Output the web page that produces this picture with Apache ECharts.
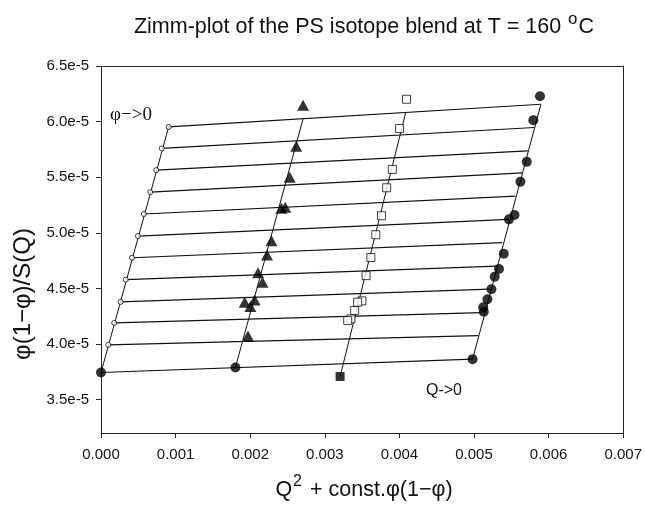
<!DOCTYPE html>
<html><head><meta charset="utf-8">
<script src="https://cdn.jsdelivr.net/npm/echarts@6/dist/echarts.min.js"></script>
<style>html,body{margin:0;padding:0;background:#fff}#c{width:645px;height:510px}</style>
</head><body><div id="c"></div>
<script>
// ---- data ----
const xTicks = [0, 0.001, 0.002, 0.003, 0.004, 0.005, 0.006, 0.007];
const yTicks = [3.5e-5, 4.0e-5, 4.5e-5, 5.0e-5, 5.5e-5, 6.0e-5, 6.5e-5];

// phi -> 0 extrapolated points (open circles)
const phi0X = [0.000907, 0.000814, 0.000740, 0.000660, 0.000575, 0.000495, 0.000416, 0.000332, 0.000262, 0.000177, 0.000097];
const phi0Y = [5.952e-5, 5.759e-5, 5.564e-5, 5.366e-5, 5.169e-5, 4.971e-5, 4.776e-5, 4.579e-5, 4.379e-5, 4.190e-5, 3.993e-5];

// fitted lines at constant Q: start (phi->0) and end points
const hStartX = [0.000907, 0.000814, 0.000740, 0.000660, 0.000575, 0.000495, 0.000416, 0.000332, 0.000262, 0.000177, 0.000097, 0];
const hStartY = [5.952e-5, 5.759e-5, 5.564e-5, 5.366e-5, 5.169e-5, 4.971e-5, 4.776e-5, 4.579e-5, 4.379e-5, 4.190e-5, 3.993e-5, 3.744e-5];
const hEndX = [0.005897, 0.005808, 0.005721, 0.005654, 0.005556, 0.005468, 0.005379, 0.005306, 0.005210, 0.005100, 0.005056, 0.004981];
const hEndY = [6.156e-5, 5.947e-5, 5.737e-5, 5.539e-5, 5.330e-5, 5.121e-5, 4.911e-5, 4.700e-5, 4.493e-5, 4.283e-5, 4.076e-5, 3.864e-5];

// fitted lines at constant concentration: bottom (Q->0) and top points
const vStartX = [0, 0.001802, 0.003205, 0.004981];
const vStartY = [3.744e-5, 3.789e-5, 3.708e-5, 3.864e-5];
const vEndX = [0.000907, 0.002709, 0.004085, 0.005897];
const vEndY = [5.952e-5, 6.026e-5, 6.085e-5, 6.156e-5];

// measured data: triangles
const triX = [0.002709, 0.002617, 0.002530, 0.002417, 0.002470, 0.002285, 0.002225, 0.002105, 0.002165, 0.001926, 0.002059, 0.002002, 0.001970];
const triY = [6.147e-5, 5.779e-5, 5.500e-5, 5.222e-5, 5.231e-5, 4.929e-5, 4.801e-5, 4.642e-5, 4.556e-5, 4.376e-5, 4.397e-5, 4.337e-5, 4.073e-5];
// measured data: open squares
const sqX = [0.004095, 0.004002, 0.003905, 0.003829, 0.003759, 0.003683, 0.003617, 0.003553, 0.003497, 0.003440, 0.003400, 0.003351, 0.003307];
const sqY = [6.201e-5, 5.938e-5, 5.570e-5, 5.405e-5, 5.154e-5, 4.983e-5, 4.778e-5, 4.615e-5, 4.388e-5, 4.376e-5, 4.301e-5, 4.226e-5, 4.211e-5];
// measured data: filled circles
const dotX = [0.005884, 0.005795, 0.005707, 0.005622, 0.005543, 0.005468, 0.005399, 0.005335, 0.005277, 0.005233, 0.005180, 0.005123, 0.005131];
const dotY = [6.228e-5, 6.013e-5, 5.638e-5, 5.459e-5, 5.160e-5, 5.121e-5, 4.812e-5, 4.675e-5, 4.606e-5, 4.493e-5, 4.403e-5, 4.331e-5, 4.291e-5];

// Q -> 0 extrapolated points
const q0X = [0, 0.001802, 0.004981];
const q0Y = [3.744e-5, 3.789e-5, 3.864e-5];
const q0SqX = [0.003205];
const q0SqY = [3.708e-5];

// ---- build chart ----
const zip = (xs, ys) => xs.map((x, i) => [x, ys[i]]);
const FONT = '"Liberation Sans", Arial, sans-serif';
const series = [];
hStartX.forEach((x, i) => {
  series.push({type: 'line', data: [[x, hStartY[i]], [hEndX[i], hEndY[i]]], symbol: 'none',
    lineStyle: {color: '#111', width: 1.2}, z: 2, silent: true});
});
vStartX.forEach((x, i) => {
  series.push({type: 'line', data: [[x, vStartY[i]], [vEndX[i], vEndY[i]]], symbol: 'none',
    lineStyle: {color: '#111', width: 1}, z: 2, silent: true});
});
series.push({type: 'scatter', data: zip(phi0X, phi0Y), symbol: 'circle', symbolSize: 5,
  itemStyle: {color: '#fff', borderColor: '#111', borderWidth: 1}, z: 4});
series.push({type: 'scatter', data: zip(triX, triY), symbol: 'triangle', symbolSize: [12, 11],
  itemStyle: {color: '#000'}, z: 4});
series.push({type: 'scatter', data: zip(sqX, sqY), symbol: 'rect', symbolSize: 8,
  itemStyle: {color: '#fff', borderColor: '#111', borderWidth: 1}, z: 4});
series.push({type: 'scatter', data: zip(dotX, dotY), symbol: 'circle', symbolSize: 10,
  itemStyle: {color: '#000'}, z: 4});
series.push({type: 'scatter', data: zip(q0X, q0Y), symbol: 'circle', symbolSize: 10,
  itemStyle: {color: '#000'}, z: 5});
series.push({type: 'scatter', data: zip(q0SqX, q0SqY), symbol: 'rect', symbolSize: 9,
  itemStyle: {color: '#000'}, z: 5});

const axisLineStyle = {color: '#222', width: 1};
const option = {
  animation: false,
  backgroundColor: '#fff',
  grid: {left: 101, right: 17, top: 66, bottom: 77, containLabel: false},
  xAxis: [{
    type: 'value', min: xTicks[0], max: xTicks[xTicks.length - 1], interval: 0.001,
    axisLine: {onZero: false, lineStyle: axisLineStyle},
    axisTick: {show: true, length: 5, lineStyle: axisLineStyle},
    axisLabel: {margin: 14, fontSize: 15, color: '#111', fontFamily: FONT,
      formatter: v => v.toFixed(3)},
    splitLine: {show: false}
  }, {
    type: 'value', position: 'top', min: xTicks[0], max: xTicks[xTicks.length - 1],
    axisLine: {onZero: false, lineStyle: axisLineStyle},
    axisTick: {show: false}, axisLabel: {show: false}, splitLine: {show: false}
  }],
  yAxis: [{
    type: 'value', min: 3.2e-5, max: yTicks[yTicks.length - 1],
    axisLine: {show: true, onZero: false, lineStyle: axisLineStyle},
    axisTick: {show: true, length: 5, lineStyle: axisLineStyle, customValues: yTicks},
    axisLabel: {margin: 12, fontSize: 15, color: '#111', fontFamily: FONT,
      customValues: yTicks, formatter: v => (v * 1e5).toFixed(1) + 'e-5'},
    splitLine: {show: false}
  }, {
    type: 'value', position: 'right', min: 3.2e-5, max: yTicks[yTicks.length - 1],
    axisLine: {show: true, onZero: false, lineStyle: axisLineStyle},
    axisTick: {show: false}, axisLabel: {show: false}, splitLine: {show: false}
  }],
  graphic: [
    {type: 'text', x: 364, y: 26, style: {
      text: '{n|Zimm-plot of the PS isotope blend at T = 160 }{s|o}{n|C}',
      fill: '#111', align: 'center', verticalAlign: 'middle',
      rich: {n: {fontSize: 21.5, fontFamily: FONT, verticalAlign: 'bottom', lineHeight: 24},
             s: {fontSize: 17, fontFamily: FONT, verticalAlign: 'bottom', padding: [0, 1, 10, 1], lineHeight: 17}}
    }},
    {type: 'text', x: 23, y: 294, rotation: Math.PI / 2, style: {
      text: 'φ(1−φ)/S(Q)', font: '24px ' + FONT, fill: '#111', align: 'center', verticalAlign: 'middle'
    }},
    {type: 'text', x: 364, y: 489, style: {
      text: '{n|Q}{s|2}{n| + const.φ(1−φ)}', fill: '#111', align: 'center', verticalAlign: 'middle',
      rich: {n: {fontSize: 21.5, fontFamily: FONT, verticalAlign: 'bottom', lineHeight: 24},
             s: {fontSize: 16, fontFamily: FONT, verticalAlign: 'bottom', padding: [0, 2, 11, 1], lineHeight: 16}}
    }},
    {type: 'text', x: 110, y: 115, style: {
      text: 'φ−>0', font: '19px "Liberation Serif", "Times New Roman", serif', fill: '#111', verticalAlign: 'middle'
    }},
    {type: 'text', x: 426, y: 391, style: {
      text: 'Q->0', font: '16px ' + FONT, fill: '#111', verticalAlign: 'middle'
    }}
  ],
  series: series
};
const chart = echarts.init(document.getElementById('c'), null, {renderer: 'canvas'});
chart.setOption(option);
</script>
</body></html>
